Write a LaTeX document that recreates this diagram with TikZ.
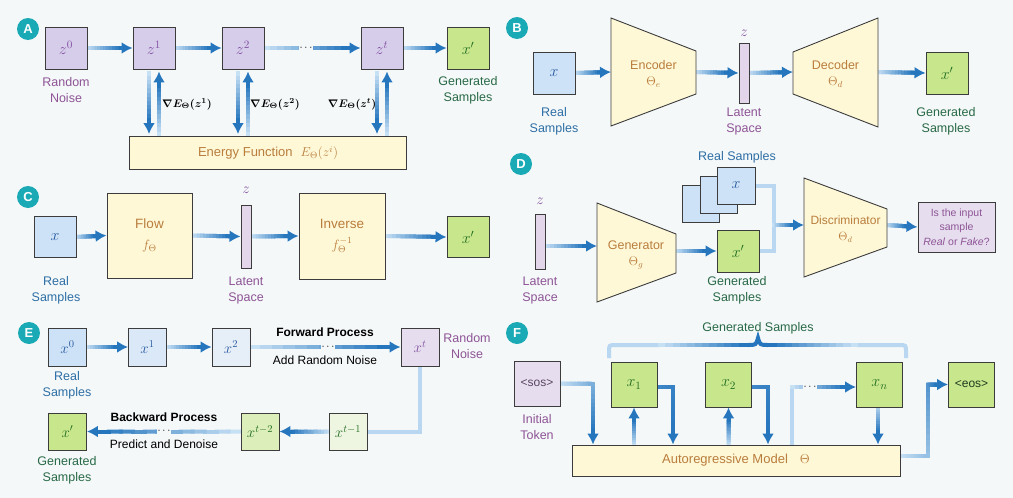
\RequirePackage{fix-cm}
\documentclass[tikz,border=0pt]{standalone}
\usepackage{fontspec}
\setmainfont{Liberation Sans}
\usetikzlibrary{arrows.meta,calc}

\definecolor{bgcol}{RGB}{244,248,249}
\definecolor{edgecol}{RGB}{60,60,60}
\definecolor{badgecol}{RGB}{26,170,182}
\definecolor{arrlight}{RGB}{198,224,244}
\definecolor{arrdark}{RGB}{38,118,190}
\definecolor{linelight}{RGB}{185,215,240}
\definecolor{zfill}{RGB}{214,205,235}
\definecolor{ztext}{RGB}{130,80,160}
\definecolor{barfill}{RGB}{228,214,234}
\definecolor{pfill}{RGB}{230,222,238}
\definecolor{yfill}{RGB}{255,248,215}
\definecolor{ytext}{RGB}{185,125,60}
\definecolor{gfill}{RGB}{200,230,140}
\definecolor{gtext}{RGB}{35,110,35}
\definecolor{rfill}{RGB}{205,226,247}
\definecolor{rtext}{RGB}{40,90,160}
\definecolor{purplelbl}{RGB}{142,84,150}
\definecolor{bluelbl}{RGB}{45,110,165}
\definecolor{greenlbl}{RGB}{40,105,70}
\definecolor{efillA}{RGB}{218,232,247}
\definecolor{efillB}{RGB}{230,238,247}
\definecolor{efillC}{RGB}{238,245,225}
\definecolor{efillD}{RGB}{220,238,185}

\pgfdeclarelayer{back}
\pgfsetlayers{back,main}

% light-to-dark pieces of the blue connectors
\newcommand{\gradseg}[4]{%
  \foreach \k in {0,...,11}{%
    \pgfmathtruncatemacro{\mixp}{#3+(#4-#3)*\k/11}%
    \draw[line width=4pt, line cap=rect, color=arrdark!\mixp!arrlight]
      ($(#1)!{\k/12}!(#2)$) -- ($(#1)!{(\k+1)/12}!(#2)$);
  }%
}
\newcommand{\gradarrow}[4]{%
  \coordinate (gbase) at ($(#2)!10pt!(#1)$);
  \gradseg{#1}{gbase}{#3}{#4}
  \draw[arrdark, line width=4pt, -{Latex[length=11pt,width=12pt]}] ($(#2)!12pt!(#1)$) -- (#2);
}

\begin{document}
\begin{tikzpicture}[x=1pt,y=-1pt,
  box/.style={draw=edgecol, line width=0.9pt, inner sep=0pt, minimum width=42pt, minimum height=42pt, font=\fontsize{16}{18}\selectfont},
  zbox/.style={box, fill=zfill, text=ztext},
  rbox/.style={box, fill=rfill, text=rtext},
  gbox/.style={box, fill=gfill, text=gtext},
  ybox/.style={box, fill=yfill, text=ytext, align=center, font=\fontsize{13}{16}\selectfont},
  trap/.style={draw=edgecol, line width=0.9pt, fill=yfill},
  trtext/.style={text=ytext, align=center, inner sep=0pt, font=\fontsize{12.5}{16}\selectfont},
  bar/.style={draw=edgecol, line width=0.9pt, fill=barfill, minimum width=10pt, inner sep=0pt},
  badge/.style={circle, fill=badgecol, text=white, minimum size=22pt, inner sep=0pt, font=\bfseries\fontsize{13}{13}\selectfont},
  lbl/.style={align=center, inner sep=0pt, font=\fontsize{12.5}{16}\selectfont},
  zlbl/.style={text=ztext, inner sep=0pt, font=\fontsize{15}{15}\selectfont},
  grad/.style={inner sep=0pt, font=\boldmath\fontsize{11}{13}\selectfont},
  dots/.style={fill=bgcol, inner sep=0.5pt, font=\fontsize{11}{11}\selectfont},
  lightln/.style={linelight, line width=4pt},
  ]

\begin{pgfonlayer}{back}
\fill[bgcol] (0,0) rectangle (1013,498);
\end{pgfonlayer}
\useasboundingbox (0,0) rectangle (1013,498);

% ---------------- A: energy based ----------------
\node[badge] (bA) at (28,29) {A};
\node[zbox] (z0) at (66,48) {$z^{0}$};
\node[zbox] (z1) at (154,48) {$z^{1}$};
\node[zbox] (z2) at (243,48) {$z^{2}$};
\node[zbox] (zt) at (382,48) {$z^{t}$};
\node[gbox] (xA) at (468,48) {$x'$};
\node[lbl, text=purplelbl] (nzA) at (66,90) {Random\\Noise};
\node[lbl, text=greenlbl] (gnA) at (468,90) {Generated\\Samples};
\node[ybox, minimum width=277pt, minimum height=33pt] (en) at (268,153) {Energy Function\hspace{8pt}$E_{\Theta}(z^{i})$};
% Text Node
\node[grad] (g1) at (187,104) {$\nabla E_{\Theta}(z^{1})$};
\node[grad] (g2) at (275,104) {$\nabla E_{\Theta}(z^{2})$};
\node[grad] (g3) at (352,104) {$\nabla E_{\Theta}(z^{t})$};

% ---------------- B: autoencoder ----------------
\node[badge] (bB) at (517,28) {B};
\node[rbox] (xB) at (554,73) {$x$};
\node[lbl, text=bluelbl] (rlB) at (554,121) {Real\\Samples};
\draw[trap] (611,18) -- (696,51) -- (696,94) -- (611,126) -- cycle;
\node[trtext] (enc) at (653.5,74) {Encoder\\$\Theta_{e}$};
\coordinate (encL) at (611,72);
\coordinate (encR) at (696,72);
\node[bar, minimum height=60pt] (lzB) at (744,73) {};
\node[zlbl] (zlB) at (744,33) {$z$};
\node[lbl, text=purplelbl] (ltB) at (744,121) {Latent\\Space};
\draw[trap] (793,52) -- (878,18) -- (878,127) -- (793,94) -- cycle;
\node[trtext] (dec) at (835.5,74) {Decoder\\$\Theta_{d}$};
\coordinate (decL) at (793,72);
\coordinate (decR) at (878,72);
\node[gbox] (xBg) at (947,73) {$x'$};
\node[lbl, text=greenlbl] (gnB) at (946,121) {Generated\\Samples};

% ---------------- C: flow ----------------
\node[badge] (bC) at (28,197) {C};
\node[rbox, minimum height=41pt] (xC) at (55,237) {$x$};
\node[lbl, text=bluelbl] (rlC) at (56,290) {Real\\Samples};
\node[ybox, minimum width=85pt, minimum height=85pt, font=\fontsize{13.5}{16}\selectfont] (flow) at (149.5,235.5) {Flow\\[5pt]$f_{\Theta}$};
\node[bar, minimum height=63pt] (lzC) at (246,236.5) {};
\node[zlbl] (zlC) at (246,190) {$z$};
\node[lbl, text=purplelbl] (ltC) at (246,290) {Latent\\Space};
\node[ybox, minimum width=86pt, minimum height=86pt, font=\fontsize{13.5}{16}\selectfont] (inv) at (342,236) {Inverse\\[5pt]$f_{\Theta}^{-1}$};
\node[gbox, minimum height=41pt] (xCg) at (468,237) {$x'$};

% ---------------- D: GAN ----------------
\node[badge] (bD) at (521,164) {D};
\node[bar, minimum height=55pt] (lzD) at (540,241.5) {};
\node[zlbl] (zlD) at (540,201) {$z$};
\node[lbl, text=purplelbl] (ltD) at (540,290) {Latent\\Space};
\draw[trap] (597,203) -- (676,234) -- (676,273) -- (597,302) -- cycle;
\node[trtext] (gen) at (636,255) {Generator\\$\Theta_{g}$};
\coordinate (lzDo) at ($(lzD.east)+(0,4.5)$);
\coordinate (genL) at (597,246);
\coordinate (genR) at (676,251);
\node[rbox, minimum width=37pt, minimum height=37pt] (rb3) at (700.5,204) {};
\node[rbox, minimum width=37pt, minimum height=37pt] (rb2) at (718.5,194.5) {};
\node[rbox, minimum width=38pt, minimum height=37pt] (rf) at (736,185.5) {$x$};
\node[lbl, text=bluelbl] (rlD) at (737,157) {Real Samples};
\node[gbox] (xDg) at (738,251) {$x'$};
\node[lbl, text=greenlbl] (gnD) at (737,290) {Generated\\Samples};
\draw[trap] (804,178) -- (887,209) -- (887,247) -- (804,277) -- cycle;
\node[trtext, font=\fontsize{12}{16}\selectfont] (disc) at (845.5,229) {Discriminator\\$\Theta_{d}$};
\coordinate (jn) at (774,225);
\coordinate (dL) at (804,225);
\coordinate (dR) at (887,225);
\node[box, fill=pfill, text=purplelbl, minimum width=77pt, minimum height=50pt, align=center, font=\fontsize{10.5}{14.5}\selectfont] (qb) at (956.5,227) {Is the input\\sample\\\textit{Real} or \textit{Fake}?};

% ---------------- E: diffusion ----------------
\node[badge] (bE) at (29,333) {E};
\node[box, fill=rfill, text=rtext, minimum width=38pt, minimum height=38pt, font=\fontsize{15}{17}\selectfont] (e0) at (67.5,347) {$x^{0}$};
\node[box, fill=efillA, text=rtext, minimum width=38pt, minimum height=38pt, font=\fontsize{15}{17}\selectfont] (e1) at (147.5,347) {$x^{1}$};
\node[box, fill=efillB, text=rtext, minimum width=38pt, minimum height=38pt, font=\fontsize{15}{17}\selectfont] (e2) at (231,347) {$x^{2}$};
\node[box, fill=pfill, text=ztext, minimum width=38pt, minimum height=38pt, font=\fontsize{15}{17}\selectfont] (et) at (420,347) {$x^{t}$};
\node[lbl, text=bluelbl] (rlE) at (67,385) {Real\\Samples};
\node[lbl, text=purplelbl] (nzE) at (467,346) {Random\\Noise};
\node[lbl, font=\bfseries\fontsize{12}{14}\selectfont] (fwd) at (325,332.5) {Forward Process};
\node[lbl, font=\fontsize{12}{14}\selectfont] (fwdn) at (325,360) {Add Random Noise};
\node[box, fill=efillC, text=gtext, minimum width=38pt, minimum height=37pt, font=\fontsize{15}{17}\selectfont] (et1) at (348,431.5) {$x^{t-1}$};
\node[box, fill=efillD, text=gtext, minimum width=38pt, minimum height=37pt, font=\fontsize{15}{17}\selectfont] (et2) at (260,431.5) {$x^{t-2}$};
\node[box, fill=gfill, text=gtext, minimum width=38pt, minimum height=37pt, font=\fontsize{15}{17}\selectfont] (eg) at (67.5,431.5) {$x'$};
\node[lbl, font=\bfseries\fontsize{12}{14}\selectfont] (bwd) at (164,417) {Backward Process};
\node[lbl, font=\fontsize{12}{14}\selectfont] (bwdn) at (164,444) {Predict and Denoise};
\node[lbl, text=greenlbl] (gnE) at (67,470) {Generated\\Samples};

% ---------------- F: autoregressive ----------------
\node[badge] (bF) at (517,333) {F};
\node[lbl, text=greenlbl] (gnF) at (758,328) {Generated Samples};
\node[box, fill=pfill, text={rgb,255:red,90;green,70;blue,100}, minimum width=46pt, minimum height=45pt, font=\fontsize{12}{14}\selectfont] (sos) at (537,383.5) {<sos>};
\node[lbl, text=purplelbl] (itF) at (537,427) {Initial\\Token};
\node[gbox, minimum width=46pt, minimum height=45pt] (xf1) at (634,384.5) {$x_{1}$};
\node[gbox, minimum width=46pt, minimum height=45pt] (xf2) at (728.5,384.5) {$x_{2}$};
\node[gbox, minimum width=46pt, minimum height=45pt] (xfn) at (879.5,384.5) {$x_{n}$};
\node[gbox, text={rgb,255:red,30;green,60;blue,30}, minimum width=46pt, minimum height=45pt, font=\fontsize{12}{14}\selectfont] (eos) at (971.5,384.5) {<eos>};
\node[ybox, minimum width=328pt, minimum height=31pt] (model) at (736,460.5) {Autoregressive Model\hspace{12pt}$\Theta$};

% ---------------- connectors ----------------
\begin{pgfonlayer}{back}
% A
\gradarrow{z0.east}{z1.west}{0}{100}
\gradarrow{z1.east}{z2.west}{0}{100}
\gradarrow{z2.east}{zt.west}{0}{100}
\gradarrow{zt.east}{xA.west}{0}{100}
\foreach \zn in {z1,z2,zt}{
  \coordinate (dnA) at ($(\zn.south)+(-5,4)$);
  \coordinate (dnB) at ($(dnA |- en.north)+(0,-2)$);
  \coordinate (upA) at ($(\zn.south)+(5,2)$);
  \coordinate (upB) at ($(upA |- en.north)+(0,-2)$);
  \gradarrow{dnA}{dnB}{0}{100}
  \gradarrow{upB}{upA}{0}{100}
}
% B
\gradarrow{xB.east}{encL}{0}{100}
\gradarrow{encR}{lzB.west}{0}{100}
\gradarrow{lzB.east}{decL}{0}{100}
\gradarrow{decR}{xBg.west}{0}{100}
% C
\gradarrow{xC.east}{flow.west}{0}{100}
\gradarrow{flow.east}{lzC.west}{0}{100}
\gradarrow{lzC.east}{inv.west}{0}{100}
\gradarrow{inv.east}{xCg.west}{0}{100}
% D
\gradarrow{lzDo}{genL}{0}{100}
\gradarrow{genR}{xDg.west}{0}{100}
\draw[lightln] (rf.east) -| (jn);
\draw[lightln] (xDg.east) -| (jn);
\gradarrow{jn}{dL}{0}{100}
\gradarrow{dR}{qb.west}{0}{100}
% E
\gradarrow{e0.east}{e1.west}{0}{100}
\gradarrow{e1.east}{e2.west}{0}{100}
\gradarrow{e2.east}{et.west}{0}{100}
\draw[lightln] (et.south) |- (et1.east);
\gradarrow{et1.west}{et2.east}{0}{100}
\gradarrow{et2.west}{eg.east}{0}{100}
% F
\coordinate (sosK) at (593,383.5);
\coordinate (sosM) at (sosK |- model.north);
\gradseg{sos.east}{sosK}{0}{45}
\gradarrow{sosK}{sosM}{45}{100}
\foreach \xn/\xk in {xf1/673,xf2/768}{
  \coordinate (upM) at (\xn.south |- model.north);
  \gradarrow{upM}{\xn.south}{0}{100}
  \coordinate (rtA) at ($(\xn.east)+(0,2.5)$);
  \coordinate (rtK) at (\xk,387);
  \coordinate (rtM) at (rtK |- model.north);
  \gradseg{rtA}{rtK}{85}{90}
  \gradarrow{rtK}{rtM}{90}{100}
}
\coordinate (nxM) at (792,445);
\coordinate (nxK) at (792,387);
\coordinate (nxE) at (xfn.west |- nxK);
\draw[lightln, line cap=rect] (nxM) -- (nxK);
\gradarrow{nxK}{nxE}{0}{100}
\coordinate (xnA) at ($(xfn.south)+(-1.5,0)$);
\coordinate (xnM) at (xnA |- model.north);
\gradarrow{xnA}{xnM}{10}{100}
\coordinate (eoA) at (900,456);
\coordinate (eoK) at (928,456);
\coordinate (eoL) at (928,384.5);
\gradseg{eoA}{eoK}{0}{30}
\gradseg{eoK}{eoL}{30}{70}
\gradarrow{eoL}{eos.west}{70}{100}
% brace over the generated samples
\coordinate (brL) at (660,345);
\coordinate (brM) at (748,345);
\coordinate (brN) at (768,345);
\coordinate (brR) at (856,345);
\draw[lightln] (609,358) -- (609,352) .. controls (609,345) .. (616,345) -- (brL);
\draw[lightln] (906,358) -- (906,352) .. controls (906,345) .. (899,345) -- (brR);
\gradseg{brL}{brM}{0}{100}
\gradseg{brR}{brN}{0}{100}
\draw[arrdark, line width=4pt] (brM) .. controls (756,345) .. (758,338) .. controls (760,345) .. (brN);
\end{pgfonlayer}

% dots on the long connectors
\node[dots] (dA) at (306,48) {$\cdots$};
\node[dots] (dE1) at (328,347) {$\cdots$};
\node[dots] (dE2) at (164,431.5) {$\cdots$};
\node[dots] (dF) at (810,387) {$\cdots$};

\end{tikzpicture}
\end{document}
